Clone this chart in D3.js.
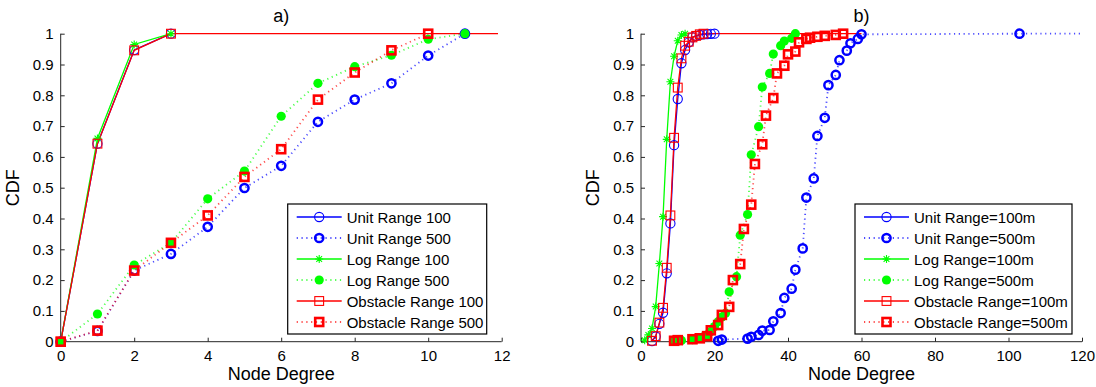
<!DOCTYPE html>
<html><head><meta charset="utf-8">
<script src="https://cdn.jsdelivr.net/npm/d3@7"></script>
<style>
body{margin:0;background:#fff}
svg{display:block}
text{font-family:"Liberation Sans",Arial,Helvetica,sans-serif;fill:#000}
</style>
</head><body>
<svg id="c" width="1096" height="387"></svg>
<script>
// ---------- shared axis data ----------
const yTicks = [0,0.1,0.2,0.3,0.4,0.5,0.6,0.7,0.8,0.9,1];
const yTickLabels = ["0","0.1","0.2","0.3","0.4","0.5","0.6","0.7","0.8","0.9","1"];
const aXTicks = [0,2,4,6,8,10,12];
const bXTicks = [0,20,40,60,80,100,120];
const aTitle = "a)";
const bTitle = "b)";
const xLabel = "Node Degree";
const yLabel = "CDF";
const aLegend = ["Unit Range 100","Unit Range 500","Log Range 100","Log Range 500","Obstacle Range 100","Obstacle Range 500"];
const bLegend = ["Unit Range=100m","Unit Range=500m","Log Range=100m","Log Range=500m","Obstacle Range=100m","Obstacle Range=500m"];

// ---------- panel a) ----------
const aUnit100X = [0,1,2,3];
const aUnit100Y = [0,0.643,0.947,1];
const aUnit500X = [0,1,2,3,4,5,6,7,8,9,10,11];
const aUnit500Y = [0,0.035,0.231,0.285,0.373,0.499,0.571,0.714,0.786,0.839,0.929,1];
const aLog100X = [0,1,2,3];
const aLog100Y = [0,0.66,0.965,1];
const aLog500X = [0,1,2,3,4,5,6,7,8,9,10,11];
const aLog500Y = [0,0.09,0.249,0.321,0.464,0.554,0.732,0.839,0.893,0.93,0.982,1];
const aObs100X = [0,1,2,3];
const aObs100Y = [0,0.643,0.946,1];
const aObs500X = [0,1,2,3,4,5,6,7,8,9,10];
const aObs500Y = [0,0.036,0.231,0.321,0.41,0.535,0.625,0.786,0.874,0.946,1];
// where each curve's line (CDF = 1) runs out to, no markers
const aTailX = [3,11,3,11,11.9,10];

// ---------- panel b) ----------
const bUnit100X = [3,4,5,6,7,8,9,10,11,12,13,14,15,16,17,18,19,20];
const bUnit100Y = [0.002,0.017,0.058,0.094,0.222,0.384,0.638,0.788,0.904,0.947,0.972,0.988,0.993,0.996,0.998,0.999,0.9995,1];
const bUnit500X = [21,22,29,30,32,33,35,36,38,39,41,42,44,45,47,48,50,51,53,54,56,57,59,60,103];
const bUnit500Y = [0.003,0.007,0.01,0.016,0.022,0.036,0.038,0.066,0.093,0.142,0.172,0.234,0.303,0.468,0.53,0.668,0.727,0.833,0.866,0.914,0.945,0.969,0.983,0.998,1];
const bLog100X = [1,2,3,4,5,6,7,8,9,10,11,12];
const bLog100Y = [0.005,0.022,0.043,0.114,0.254,0.406,0.657,0.844,0.927,0.977,0.996,1];
const bLog500X = [9,10,11,14,16,17,18,19,20,21,22,23,24,26,27,29,30,32,33,35,36,38,39,41,42];
const bLog500Y = [0.002,0.003,0.004,0.007,0.012,0.016,0.022,0.033,0.049,0.065,0.08,0.092,0.162,0.211,0.346,0.413,0.607,0.698,0.827,0.871,0.934,0.961,0.976,0.985,1];
const bObs100X = [3,4,5,6,7,8,9,10,11,12,13,14,15,16,17];
const bObs100Y = [0.003,0.018,0.062,0.11,0.24,0.41,0.662,0.825,0.92,0.961,0.974,0.988,0.993,0.998,1];
const bObs500X = [9,10,14,16,18,19,21,22,24,25,27,28,30,31,33,34,36,37,39,40,42,43,45,46,48,50,53,55];
const bObs500Y = [0.003,0.005,0.008,0.011,0.018,0.037,0.054,0.087,0.113,0.2,0.252,0.366,0.445,0.577,0.641,0.734,0.791,0.871,0.896,0.933,0.942,0.972,0.983,0.987,0.99,0.993,0.996,1];
const bTailX = [20,120,12,42,60,55];

// ---------- styles ----------
const BLUE = "#0000ff", GREEN = "#00ff00", RED = "#ff0000";
const styles = [
  {color:BLUE,  dotted:false, marker:"o"},
  {color:BLUE,  dotted:true,  marker:"O"},
  {color:GREEN, dotted:false, marker:"*"},
  {color:GREEN, dotted:true,  marker:"."},
  {color:RED,   dotted:false, marker:"s"},
  {color:RED,   dotted:true,  marker:"S"}
];

const svg = d3.select("#c");

function drawMarker(g, type, color, x, y){
  if(type==="o"){
    g.append("circle").attr("cx",x).attr("cy",y).attr("r",4.6)
      .attr("fill","none").attr("stroke",color).attr("stroke-width",1.1);
  } else if(type==="O"){
    g.append("circle").attr("cx",x).attr("cy",y).attr("r",4.1)
      .attr("fill","none").attr("stroke",color).attr("stroke-width",2.5);
  } else if(type==="."){
    g.append("circle").attr("cx",x).attr("cy",y).attr("r",4.6)
      .attr("fill",color).attr("stroke","none");
  } else if(type==="s"){
    g.append("rect").attr("x",x-4.4).attr("y",y-4.4).attr("width",8.8).attr("height",8.8)
      .attr("fill","none").attr("stroke",color).attr("stroke-width",1.1);
  } else if(type==="S"){
    g.append("rect").attr("x",x-4).attr("y",y-4).attr("width",8).attr("height",8)
      .attr("fill","none").attr("stroke",color).attr("stroke-width",2.6);
  } else if(type==="*"){
    const r=4, d=r*0.72;
    g.append("path")
      .attr("d",`M${x-r},${y}L${x+r},${y}M${x},${y-r}L${x},${y+r}M${x-d},${y-d}L${x+d},${y+d}M${x-d},${y+d}L${x+d},${y-d}`)
      .attr("stroke",color).attr("stroke-width",1.1).attr("fill","none");
  }
}

function styleLine(sel, st){
  sel.attr("fill","none").attr("stroke",st.color);
  if(st.dotted){
    sel.attr("stroke-width",1.8).attr("stroke-dasharray","1.2,3.6").attr("stroke-opacity",0.7);
  } else {
    sel.attr("stroke-width",1.3);
  }
  return sel;
}

function panel(opt){
  const {id,x0,x1,xDomain,xTicks,title,series,tails,legend,legendBox} = opt;
  const y0 = 341.7, y1 = 33.7;
  const x = d3.scaleLinear().domain(xDomain).range([x0,x1]);
  const y = d3.scaleLinear().domain([0,1]).range([y0,y1]);
  const g = svg.append("g");

  g.append("clipPath").attr("id","clip"+id)
    .append("rect").attr("x",x0).attr("y",y1-5).attr("width",x1-x0).attr("height",y0-y1+10);

  // axes (ticks pointing inward)
  const xAxis = d3.axisBottom(x).tickValues(xTicks).tickSize(-4).tickPadding(9).tickFormat(d3.format("d"));
  const yAxis = d3.axisLeft(y).tickValues(yTicks).tickSize(-4).tickPadding(7).tickFormat((d,i)=>yTickLabels[i]);
  const gx = g.append("g").attr("transform",`translate(0,${y0})`).call(xAxis);
  const gy = g.append("g").attr("transform",`translate(${x0},0)`).call(yAxis);
  [gx,gy].forEach(a=>{
    a.select(".domain").attr("stroke","#262626").attr("stroke-width",1);
    a.selectAll(".tick line").attr("stroke","#262626").attr("stroke-width",1);
    a.selectAll("text").attr("font-size",15).attr("font-family",'"Liberation Sans",Arial,sans-serif').attr("fill","#000");
  });
  gx.select(".domain").attr("d",`M${x0},0H${x1}`);
  gy.select(".domain").attr("d",`M0,${y0}V${y1}`);

  // labels
  g.append("text").attr("x",(x0+x1)/2).attr("y",22).attr("text-anchor","middle")
    .attr("font-size",18).text(title);
  g.append("text").attr("x",(x0+x1)/2).attr("y",380).attr("text-anchor","middle")
    .attr("font-size",18).text(xLabel);
  g.append("text").attr("transform",`translate(${x0-42},${(y0+y1)/2}) rotate(-90)`)
    .attr("text-anchor","middle").attr("font-size",18).text(yLabel);

  // series
  const line = d3.line().x(d=>x(d[0])).y(d=>y(d[1]));
  const lines = g.append("g").attr("clip-path",`url(#clip${id})`);
  series.forEach((s,i)=>{
    const st = styles[i];
    const pts = s.X.map((v,k)=>[v,s.Y[k]]);
    const last = pts[pts.length-1];
    if(tails[i] > last[0]) pts.push([tails[i], last[1]]);
    styleLine(lines.append("path").attr("d",line(pts)), st);
    const mg = g.append("g");
    s.X.forEach((v,k)=>drawMarker(mg, st.marker, st.color, x(v), y(s.Y[k])));
  });

  // legend
  const lb = legendBox;
  const lg = g.append("g");
  lg.append("rect").attr("x",lb.x).attr("y",lb.y).attr("width",lb.w).attr("height",lb.h)
    .attr("fill","#fff").attr("stroke","#000").attr("stroke-width",1.2);
  legend.forEach((t,i)=>{
    const st = styles[i];
    const cy = lb.y + 13 + i*21;
    styleLine(lg.append("path").attr("d",`M${lb.x+9},${cy}H${lb.x+54}`), st);
    drawMarker(lg, st.marker, st.color, lb.x+31.5, cy);
    lg.append("text").attr("x",lb.x+59).attr("y",cy+5.5).attr("font-size",15).text(t);
  });
}

panel({
  id:"a", x0:60.7, x1:501.7, xDomain:[0,12], xTicks:aXTicks, title:aTitle,
  series:[
    {X:aUnit100X,Y:aUnit100Y},{X:aUnit500X,Y:aUnit500Y},
    {X:aLog100X,Y:aLog100Y},{X:aLog500X,Y:aLog500Y},
    {X:aObs100X,Y:aObs100Y},{X:aObs500X,Y:aObs500Y}],
  tails:aTailX, legend:aLegend,
  legendBox:{x:287.7,y:204,w:199,h:130}
});
panel({
  id:"b", x0:641, x1:1082, xDomain:[0,120], xTicks:bXTicks, title:bTitle,
  series:[
    {X:bUnit100X,Y:bUnit100Y},{X:bUnit500X,Y:bUnit500Y},
    {X:bLog100X,Y:bLog100Y},{X:bLog500X,Y:bLog500Y},
    {X:bObs100X,Y:bObs100Y},{X:bObs500X,Y:bObs500Y}],
  tails:bTailX, legend:bLegend,
  legendBox:{x:855,y:204,w:217,h:130}
});
</script>
</body></html>
